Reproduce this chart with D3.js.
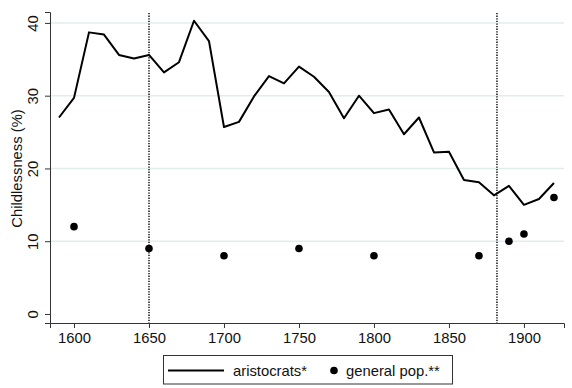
<!DOCTYPE html>
<html lang="en">
<head>
<meta charset="UTF-8" />
<title>Childlessness</title>
<script src="https://cdn.jsdelivr.net/npm/d3@7"></script>
<style>
  body { margin: 0; background: #fff; }
  svg { font-family: "Liberation Sans", Arial, sans-serif; }
</style>
</head>
<body>
<script>
  // aristocrats, every 10 years
  var aristoYears = [1590, 1600, 1610, 1620, 1630, 1640, 1650, 1660, 1670, 1680, 1690,
    1700, 1710, 1720, 1730, 1740, 1750, 1760, 1770, 1780, 1790, 1800, 1810, 1820,
    1830, 1840, 1850, 1860, 1870, 1880, 1890, 1900, 1910, 1920];
  var aristoValues = [27.0, 29.7, 38.7, 38.4, 35.6, 35.1, 35.6, 33.2, 34.6, 40.3, 37.5,
    25.7, 26.4, 29.9, 32.7, 31.7, 34.0, 32.6, 30.5, 26.9, 30.0, 27.6, 28.1, 24.7,
    27.0, 22.2, 22.3, 18.4, 18.1, 16.3, 17.6, 15.0, 15.8, 18.0];

  // general population
  var popYears = [1600, 1650, 1700, 1750, 1800, 1870, 1890, 1900, 1920];
  var popValues = [12, 9, 8, 9, 8, 8, 10, 11, 16];

  var markerYears = [1650, 1882];
  var xTicks = [1600, 1650, 1700, 1750, 1800, 1850, 1900];
  var yTicks = [0, 10, 20, 30, 40];
  var legendLabels = ["aristocrats*", "general pop.**"];

  var w = 572, h = 388,
    fs = 14.8;

  var svg = d3.select("body").append("svg")
    .attr("width", w)
    .attr("height", h);

  var xScale = d3.scaleLinear()
    .domain([1584, 1926.7])
    .range([50, 564]);

  var yScale = d3.scaleLinear()
    .domain([-1.24, 41.5])
    .range([323, 12]);

  // gridlines
  svg.append("g")
    .selectAll("line")
    .data(yTicks.filter(function(d) { return d > 0; }))
    .enter()
    .append("line")
    .attr("x1", 50)
    .attr("x2", 564)
    .attr("y1", function(d) { return yScale(d); })
    .attr("y2", function(d) { return yScale(d); })
    .attr("stroke", "#e1ecef")
    .attr("stroke-width", 1.5);

  // dotted markers
  svg.append("g")
    .selectAll("line")
    .data(markerYears)
    .enter()
    .append("line")
    .attr("x1", function(d) { return xScale(d); })
    .attr("x2", function(d) { return xScale(d); })
    .attr("y1", 13)
    .attr("y2", 323)
    .attr("stroke", "#222")
    .attr("stroke-width", 1.6)
    .attr("stroke-dasharray", "1.3,1.3");

  var xAxis = d3.axisBottom(xScale)
    .tickValues(xTicks)
    .tickSizeOuter(0)
    .tickSize(5)
    .tickPadding(4)
    .tickFormat(d3.format("d"));

  var yAxis = d3.axisLeft(yScale)
    .tickValues(yTicks)
    .tickSizeOuter(0)
    .tickSize(5);

  var gx = svg.append("g")
    .attr("transform", "translate(0," + 323 + ")")
    .call(xAxis);
  gx.selectAll("text")
    .attr("font-size", fs)
    .attr("fill", "#111")
    .attr("font-family", "Liberation Sans, Arial, sans-serif");

  var gy = svg.append("g")
    .attr("transform", "translate(" + 50 + ",0)")
    .call(yAxis);
  gy.selectAll("text")
    .attr("font-size", fs)
    .attr("fill", "#111")
    .attr("font-family", "Liberation Sans, Arial, sans-serif")
    .attr("text-anchor", "middle")
    .attr("x", null)
    .attr("y", 0)
    .attr("dy", "0")
    .attr("transform", "translate(-12,0) rotate(-90)");

  svg.selectAll(".domain, .tick line")
    .attr("stroke", "#333");

  svg.append("text")
    .attr("transform", "translate(22," + yScale(20) + ") rotate(-90)")
    .attr("text-anchor", "middle")
    .attr("font-size", fs)
    .attr("fill", "#111")
    .text("Childlessness (%)");

  // aristocrat line
  var line = d3.line()
    .x(function(d, i) { return xScale(aristoYears[i]); })
    .y(function(d) { return yScale(d); });

  svg.append("path")
    .datum(aristoValues)
    .attr("fill", "none")
    .attr("stroke", "#000")
    .attr("stroke-width", 2)
    .attr("stroke-linejoin", "round")
    .attr("d", line);

  svg.append("g")
    .selectAll("circle")
    .data(popValues)
    .enter()
    .append("circle")
    .attr("cx", function(d, i) { return xScale(popYears[i]); })
    .attr("cy", function(d) { return yScale(d); })
    .attr("r", 3.8)
    .attr("fill", "#000");

  // legend
  var lg = svg.append("g");
  lg.append("rect")
    .attr("x", 163.5)
    .attr("y", 355.5)
    .attr("width", 289)
    .attr("height", 28.5)
    .attr("fill", "#fff")
    .attr("stroke", "#333");
  lg.append("line")
    .attr("x1", 168).attr("x2", 224)
    .attr("y1", 370.5).attr("y2", 370.5)
    .attr("stroke", "#000").attr("stroke-width", 2);
  lg.append("text")
    .attr("x", 233).attr("y", 375.5)
    .attr("font-size", fs).attr("fill", "#111")
    .text(legendLabels[0]);
  lg.append("circle")
    .attr("cx", 334).attr("cy", 370.5).attr("r", 3.8).attr("fill", "#000");
  lg.append("text")
    .attr("x", 346).attr("y", 375.5)
    .attr("font-size", fs).attr("fill", "#111")
    .text(legendLabels[1]);
</script>
</body>
</html>
